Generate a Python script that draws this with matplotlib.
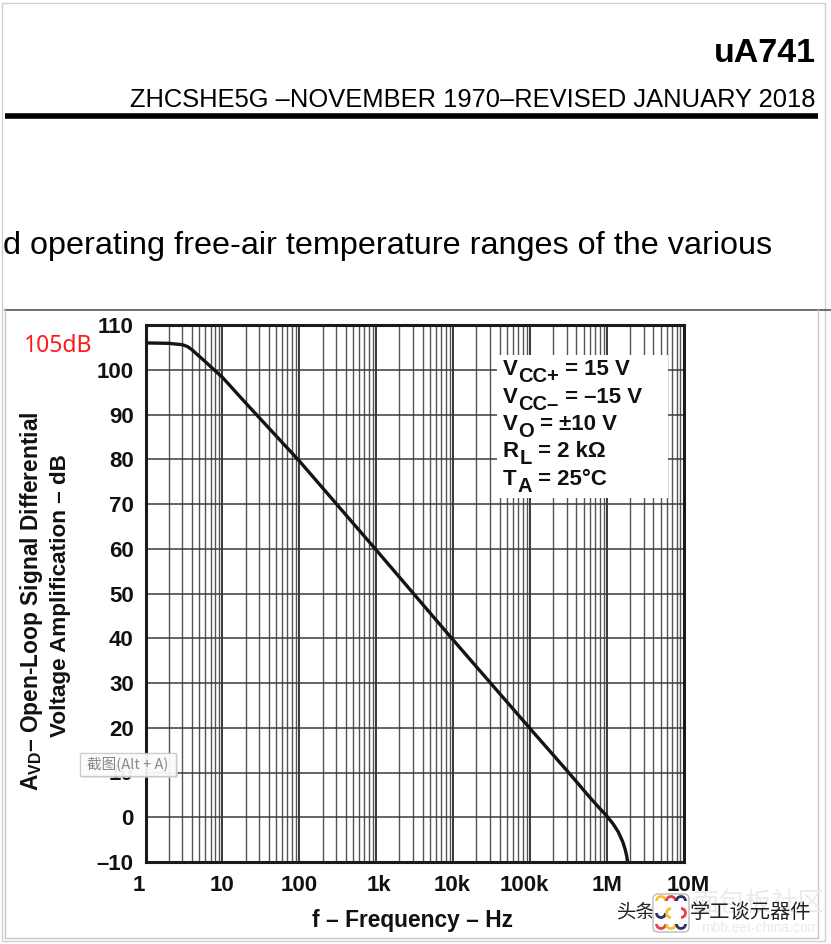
import matplotlib
matplotlib.use("Agg")
import matplotlib.pyplot as plt
import matplotlib.transforms as mtransforms
from matplotlib.patches import Rectangle, FancyBboxPatch, Arc
from matplotlib.lines import Line2D

plt.rcParams['font.family'] = ['Liberation Sans', 'Noto Sans CJK SC', 'DejaVu Sans']
plt.rcParams['mathtext.fontset'] = 'custom'
plt.rcParams['mathtext.rm'] = 'Liberation Sans:bold'
plt.rcParams['mathtext.bf'] = 'Liberation Sans:bold'
plt.rcParams['mathtext.it'] = 'Liberation Sans:bold'
plt.rcParams['mathtext.sf'] = 'Liberation Sans:bold'

# ---- data ----
freq_hz = [1, 2, 3, 3.5, 4, 5, 6, 8, 10, 20, 100, 1000, 10000, 100000,
           316000, 600000, 800000, 1000000, 1200000, 1400000, 1600000,
           1720000, 1800000, 1850000]
gain_db = [106, 105.9, 105.6, 105.2, 104.5, 103.0, 101.8, 99.8, 98.3, 92.6,
           79.6, 59.7, 39.6, 19.8, 10.0, 4.4, 2.0, 0.2, -1.5, -3.3, -5.5,
           -7.2, -8.7, -10.0]

x_ticks = [1, 10, 100, 1e3, 1e4, 1e5, 1e6, 1e7]
x_tick_labels = ['1', '10', '100', '1k', '10k', '100k', '1M', '10M']
y_ticks = [-10, 0, 10, 20, 30, 40, 50, 60, 70, 80, 90, 100, 110]
y_tick_labels = ['–10', '0', '10', '20', '30', '40', '50', '60', '70', '80',
                 '90', '100', '110']

# test conditions: (symbol, subscript, rest)
cond_symbol = ['V', 'V', 'V', 'R', 'T']
cond_sub = ['CC+', 'CC–', 'O', 'L', 'A']
cond_rest = [' = 15 V', ' = –15 V', ' = ±10 V', ' = 2 kΩ', ' = 25°C']

W, H = 831, 944
fig = plt.figure(figsize=(W / 100, H / 100), dpi=100)
fig.patch.set_facecolor('white')
PX = fig.dpi_scale_trans  # inches -> use px/100


def fx(px):
    return px / W


def fy(py):
    return 1 - py / H


# ---- page decorations ----
fig.add_artist(Rectangle((fx(2), fy(941)), fx(825) - fx(2), fy(3) - fy(941),
                         transform=fig.transFigure, fill=False,
                         edgecolor='#d0d0d0', linewidth=1))
fig.text(fx(816), fy(53), 'uA741', ha='right', va='center',
         fontsize=24.5, fontweight='bold', color='black')
fig.text(fx(816), fy(100), 'ZHCSHE5G –NOVEMBER 1970–REVISED JANUARY 2018',
         ha='right', va='center', fontsize=18.4, color='black')
fig.add_artist(Line2D([fx(5), fx(818)], [fy(116), fy(116)],
                      transform=fig.transFigure, color='black', linewidth=4,
                      solid_capstyle='butt'))
fig.text(fx(3), fy(246), 'd operating free-air temperature ranges of the various',
         ha='left', va='center', fontsize=23.3, color='black')

# screenshot box
fig.add_artist(Line2D([fx(5), fx(831)], [fy(310), fy(310)],
                      transform=fig.transFigure, color='#555555', linewidth=1.2))
fig.add_artist(Line2D([fx(5), fx(5)], [fy(310), fy(938)],
                      transform=fig.transFigure, color='#c8c8c8', linewidth=1))
fig.add_artist(Line2D([fx(5), fx(818)], [fy(938), fy(938)],
                      transform=fig.transFigure, color='#c8c8c8', linewidth=1))
fig.add_artist(Line2D([fx(818), fx(818)], [fy(310), fy(938)],
                      transform=fig.transFigure, color='#c8c8c8', linewidth=1))

# ---- axes ----
L, R, T, B = 145.5, 684, 325, 862
ax = fig.add_axes([fx(L), fy(B), fx(R) - fx(L), fy(T) - fy(B)])
ax.set_xscale('log')
ax.set_xlim(1, 1e7)
ax.set_ylim(-10, 110)

for dec in range(7):
    for m in range(1, 10):
        f = m * 10 ** dec
        if m == 1:
            ax.axvline(f, color='#2a2a2a', linewidth=1.3, zorder=1)
        else:
            ax.axvline(f, color='#555555', linewidth=1.0, zorder=1)
for yv in y_ticks:
    ax.axhline(yv, color='#3a3a3a', linewidth=1.1, zorder=1)

ax.plot(freq_hz, gain_db, color='#141414', linewidth=2.4, zorder=4,
        solid_capstyle='butt', solid_joinstyle='round')

for sp in ax.spines.values():
    sp.set_linewidth(2.2)
    sp.set_color('#1a1a1a')
    sp.set_zorder(5)

ax.set_xticks(x_ticks)
ax.set_xticklabels(x_tick_labels)
ax.xaxis.set_minor_locator(matplotlib.ticker.NullLocator())
ax.set_yticks(y_ticks)
ax.set_yticklabels(y_tick_labels)
ax.tick_params(axis='both', length=0, labelsize=16)
ax.tick_params(axis='x', pad=9.5)
ax.tick_params(axis='y', pad=8.5)
for lbl in ax.get_xticklabels() + ax.get_yticklabels():
    lbl.set_fontweight('bold')
    lbl.set_color('#111111')

x_offsets = [-7, 0, 0, 3, -1, -6, 0, 4]
for lbl, dx in zip(ax.get_xticklabels(), x_offsets):
    lbl.set_transform(lbl.get_transform() +
                      mtransforms.ScaledTranslation(dx / 100, 0, fig.dpi_scale_trans))

# conditions box (white background, no border)
box_l, box_r, box_t, box_b = 497, 668, 355, 498
fig.add_artist(Rectangle((fx(box_l), fy(box_b)), fx(box_r) - fx(box_l),
                         fy(box_t) - fy(box_b), transform=fig.transFigure,
                         facecolor='white', edgecolor='none', zorder=3))

renderer = fig.canvas.get_renderer()
baselines = [375, 403, 430, 457, 485]
for sym, sub, rest, base in zip(cond_symbol, cond_sub, cond_rest, baselines):
    x = 503
    t1 = fig.text(x / 100, (H - base) / 100, sym, transform=PX, ha='left',
                  va='baseline', fontsize=16, fontweight='bold', color='#111111',
                  zorder=6)
    x += t1.get_window_extent(renderer).width + 0.5
    t2 = fig.text(x / 100, (H - base - 7) / 100, sub, transform=PX, ha='left',
                  va='baseline', fontsize=14.5, fontweight='bold', color='#111111',
                  zorder=6)
    x += t2.get_window_extent(renderer).width
    fig.text(x / 100, (H - base) / 100, rest, transform=PX, ha='left',
             va='baseline', fontsize=16, fontweight='bold', color='#111111',
             zorder=6)

# axis labels
fig.text(fx(413), fy(921), 'f – Frequency – Hz', ha='center', va='center',
         fontsize=16.4, fontweight='bold', color='#111111')
fig.text(fx(32), fy(601), r'$A_{VD}$– Open-Loop Signal Differential',
         rotation=90, ha='center', va='center', fontsize=16.4,
         fontweight='bold', color='#111111')
fig.text(fx(61), fy(596), 'Voltage Amplification – dB',
         rotation=90, ha='center', va='center', fontsize=16.2,
         fontweight='bold', color='#111111')

# annotation
fig.text(fx(24), fy(346), '105dB', ha='left', va='center', fontsize=16.5,
         color='#ff1a1a', family=['Noto Sans', 'DejaVu Sans'])

# tooltip overlay
fig.add_artist(Rectangle((fx(82), fy(778)), fx(178) - fx(82), fy(755) - fy(778),
                         transform=fig.transFigure, facecolor='#dddddd',
                         edgecolor='none', zorder=9, alpha=0.6))
fig.add_artist(Rectangle((fx(80), fy(776)), fx(176) - fx(80), fy(753) - fy(776),
                         transform=fig.transFigure, facecolor='white',
                         edgecolor='#c4c4c4', linewidth=1, zorder=10, alpha=0.85))
fig.text(fx(128), fy(764), '截图(Alt + A)', ha='center', va='center',
         fontsize=10.5, color='#8a8a8a', zorder=11,
         family=['Noto Sans CJK SC', 'DejaVu Sans'])

# bottom-right watermarks
fig.text(fx(758), fy(903), '面包板社区', ha='center', va='center', fontsize=19,
         color='#ebebeb', family=['Noto Sans CJK SC', 'DejaVu Sans'], zorder=2)
fig.text(fx(760), fy(928), 'mbb.eet-china.com', ha='center', va='center',
         fontsize=10, color='#ebebeb', zorder=2)
fig.text(fx(617), fy(912), '头条', ha='left', va='center', fontsize=14,
         color='#222222', family=['Noto Sans CJK SC', 'DejaVu Sans'], zorder=10)
fig.text(fx(690), fy(912), '学工谈元器件', ha='left', va='center', fontsize=14.6,
         color='#222222', family=['Noto Sans CJK SC', 'DejaVu Sans'], zorder=10)
fig.add_artist(FancyBboxPatch((6.53, (H - 932) / 100), 0.36, 0.38,
                              boxstyle='round,pad=0,rounding_size=0.05',
                              transform=PX, facecolor='white',
                              edgecolor='#bbbbbb', linewidth=1, zorder=11))
arc_specs = [
    (661, 901, '#f2c230', 0, 180), (671, 901, '#e8414e', 0, 180), (681, 901, '#2f2f6b', 0, 180),
    (661, 913, '#2f2f6b', 180, 360), (671, 913, '#f2c230', 90, 270), (681, 913, '#e8414e', 270, 90),
    (661, 924, '#e8414e', 180, 360), (671, 924, '#f2c230', 180, 360), (681, 924, '#2f2f6b', 180, 360),
]
for cx, cy, col, a1, a2 in arc_specs:
    fig.add_artist(Arc((cx / 100, (H - cy) / 100), 0.09, 0.09, theta1=a1,
                       theta2=a2, transform=PX, color=col, linewidth=2,
                       zorder=12))

fig.savefig('out.png', dpi=100, facecolor='white')
